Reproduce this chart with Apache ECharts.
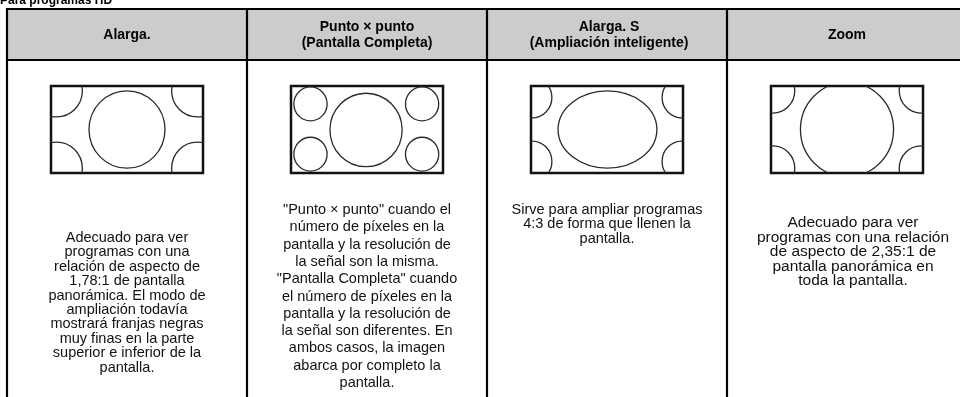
<!DOCTYPE html>
<html><head><meta charset="utf-8">
<script src="https://cdn.jsdelivr.net/npm/echarts@6/dist/echarts.min.js"></script>
<style>html,body{margin:0;padding:0;background:#fff;overflow:hidden}#c{width:960px;height:397px}</style>
</head><body><div id="c"></div>
<script>
// ---- data ----
const title = 'Para programas HD';
const headers = [
  ['Alarga.'],
  ['Punto × punto', '(Pantalla Completa)'],
  ['Alarga. S', '(Ampliación inteligente)'],
  ['Zoom']
];
const descCol1 = ['Adecuado para ver', 'programas con una', 'relación de aspecto de', '1,78:1 de pantalla',
  'panorámica. El modo de', 'ampliación todavía', 'mostrará franjas negras', 'muy finas en la parte',
  'superior e inferior de la', 'pantalla.'];
const descCol2 = ['"Punto × punto" cuando el', 'número de píxeles en la', 'pantalla y la resolución de',
  'la señal son la misma.', '"Pantalla Completa" cuando', 'el número de píxeles en la',
  'pantalla y la resolución de', 'la señal son diferentes. En', 'ambos casos, la imagen',
  'abarca por completo la', 'pantalla.'];
const descCol3 = ['Sirve para ampliar programas', '4:3 de forma que llenen la', 'pantalla.'];
const descCol4 = ['Adecuado para ver', 'programas con una relación', 'de aspecto de 2,35:1 de',
  'pantalla panorámica en', 'toda la pantalla.'];
// diagram shapes: [cx, cy, rx, ry] in 16:9 screen units (0..160 × 0..90)
const shapesAlarga = [[80, 45, 40, 40], [6, 5, 27, 27], [154, 5, 27, 27], [6, 85, 27, 27], [154, 85, 27, 27]];
const shapesPunto = [[79, 45.5, 38, 38], [20.5, 18.5, 17.5, 17.5], [138, 18.5, 17.5, 17.5], [20.5, 70.5, 17.5, 17.5], [138, 70.5, 17.5, 17.5]];
const shapesAlargaS = [[80.5, 45, 52, 40], [1, 12, 21, 21], [159, 12, 21, 21], [1, 78, 21, 21], [159, 78, 21, 21]];
const shapesZoom = [[80, 45, 49, 49], [2, 5, 23, 23], [158, 5, 23, 23], [2, 85, 23, 23], [158, 85, 23, 23]];

// ---- layout ----
const descs = [descCol1, descCol2, descCol3, descCol4];
const shapeSets = [shapesAlarga, shapesPunto, shapesAlargaS, shapesZoom];
const tableLeft = 7, colW = 240, tableTop = 9, headBottom = 60;
const descFirst = [238, 210, 210, 223];   // centre of first text line
const descLH = [14.4, 17.3, 14.4, 14.5];
const descSize = [14.5, 14.5, 14.5, 15.5];
const descShift = [0, 0, 0, 6];
const FONT = '"Liberation Sans", Arial, Helvetica, sans-serif';

const chart = echarts.init(document.getElementById('c'), null, {renderer: 'canvas'});
const graphics = [];
graphics.push({type: 'rect', silent: true, z: 0,
  shape: {x: tableLeft, y: tableTop, width: colW * 4, height: headBottom - tableTop},
  style: {fill: '#cccccc'}});
graphics.push({type: 'text', silent: true, z: 5, x: 0, y: 7,
  style: {text: title, font: 'bold 12px ' + FONT, fill: '#000', textAlign: 'left', textVerticalAlign: 'bottom'}});
const lineStyle = {stroke: '#000', lineWidth: 2.2};
[tableTop, headBottom].forEach(y => graphics.push({type: 'line', silent: true, z: 10,
  shape: {x1: tableLeft - 1, y1: y, x2: tableLeft + colW * 4 + 1, y2: y}, style: lineStyle}));
for (let i = 0; i <= 4; i++) {
  const x = tableLeft + colW * i;
  graphics.push({type: 'line', silent: true, z: 10, shape: {x1: x, y1: tableTop - 1, x2: x, y2: 400}, style: lineStyle});
}
headers.forEach((h, i) => {
  const cx = tableLeft + colW * i + colW / 2 + (i === 2 ? 2 : 0);
  graphics.push({type: 'text', silent: true, z: 5, x: cx, y: (tableTop + headBottom) / 2 + 0.5,
    style: {text: h.join('\n'), font: 'bold 14px ' + FONT, lineHeight: 16, fill: '#000',
      textAlign: 'center', textVerticalAlign: 'middle'}});
});
descs.forEach((d, i) => {
  const cx = tableLeft + colW * i + colW / 2 + descShift[i];
  graphics.push({type: 'text', silent: true, z: 5, x: cx, y: descFirst[i] - descLH[i] / 2,
    style: {text: d.join('\n'), font: descSize[i] + 'px ' + FONT, lineHeight: descLH[i], fill: '#111',
      textAlign: 'center', textVerticalAlign: 'top'}});
});

const grids = [], xAxes = [], yAxes = [], series = [];
shapeSets.forEach((set, i) => {
  grids.push({left: tableLeft + colW * i + 44, top: 86, width: 152, height: 87, show: true,
    borderColor: '#111', borderWidth: 2.5, backgroundColor: '#fff'});
  xAxes.push({gridIndex: i, type: 'value', min: 0, max: 160, show: false});
  yAxes.push({gridIndex: i, type: 'value', min: 0, max: 90, inverse: true, show: false});
  series.push({type: 'custom', xAxisIndex: i, yAxisIndex: i, clip: true, silent: true, animation: false,
    data: set,
    encode: {x: 0, y: 1},
    renderItem: (params, api) => {
      const c = api.coord([api.value(0), api.value(1)]);
      const s = api.size([api.value(2), api.value(3)]);
      return {type: 'ellipse', shape: {cx: c[0], cy: c[1], rx: s[0], ry: s[1]},
        style: {fill: 'none', stroke: '#2a2a2a', lineWidth: 1.3}};
    }});
});

chart.setOption({
  animation: false,
  grid: grids, xAxis: xAxes, yAxis: yAxes, series: series,
  graphic: graphics
});
</script></body></html>
